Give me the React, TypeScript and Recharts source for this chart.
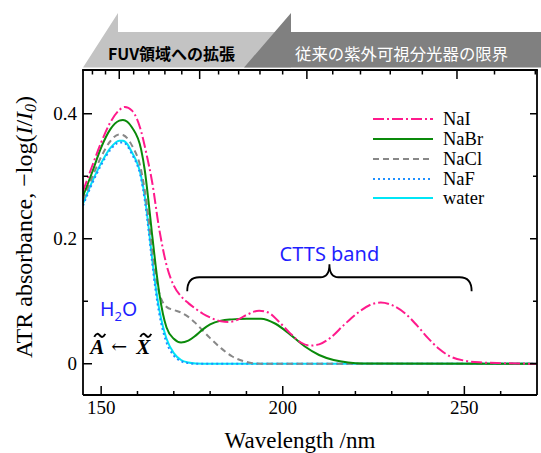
import React from 'react';
import { LineChart, Line, XAxis, YAxis, ReferenceLine } from 'recharts';

const SERIF = '"Liberation Serif", "Times New Roman", serif';
const SANS = '"Noto Sans", "Liberation Sans", sans-serif';
const CJK = '"Noto Sans CJK JP", "Noto Sans", sans-serif';

// ---- data ----
const waterX = [145, 147.5, 150, 152.5, 155, 156, 158.5, 161, 162, 163, 164, 165, 166, 167, 168, 170, 172, 174, 176, 180, 270];
const waterY = [0.256, 0.291, 0.321, 0.345, 0.357, 0.357, 0.338, 0.3, 0.268, 0.222, 0.17, 0.124, 0.087, 0.06, 0.04, 0.017, 0.006, 0.002, 0.0005, 0, 0];

const nafX = [145, 147.5, 150, 152.5, 155, 156, 158.5, 161, 162, 163, 164, 165, 166, 167, 168, 170, 172, 174, 176, 180, 270];
const nafY = [0.253, 0.288, 0.318, 0.342, 0.354, 0.354, 0.335, 0.296, 0.262, 0.216, 0.164, 0.117, 0.08, 0.053, 0.034, 0.013, 0.004, 0.001, 0, 0, 0];

const naclX = [145, 147.5, 150, 152.5, 155, 156, 158.5, 161, 162, 163, 164, 165, 166, 167, 168, 170, 172, 174, 176, 178, 180, 183, 186, 190, 194, 270];
const naclY = [0.262, 0.298, 0.331, 0.356, 0.367, 0.366, 0.349, 0.31, 0.278, 0.235, 0.185, 0.142, 0.113, 0.098, 0.091, 0.086, 0.082, 0.075, 0.065, 0.053, 0.041, 0.025, 0.012, 0.003, 0, 0];

const nabrX = [145, 147.5, 150, 152.5, 155, 156, 158.5, 161, 162, 163, 164, 165, 166, 167, 168, 170, 172, 174, 176, 178, 180, 183, 186, 190, 194, 198, 202, 206, 210, 214, 218, 222, 270];
const nabrY = [0.268, 0.306, 0.346, 0.375, 0.389, 0.39, 0.378, 0.343, 0.31, 0.262, 0.208, 0.157, 0.113, 0.08, 0.058, 0.04, 0.034, 0.037, 0.045, 0.055, 0.063, 0.069, 0.071, 0.072, 0.072, 0.064, 0.047, 0.028, 0.014, 0.006, 0.002, 0.0005, 0];

const naiX = [145, 147.5, 150, 152.5, 155, 156.5, 158.5, 161, 162.5, 164, 166, 168, 170, 172, 174, 176, 178, 180, 183, 185, 187, 190, 193.5, 196, 199, 202, 205, 207.5, 210, 213, 217, 221, 224, 227, 230, 234, 237, 240, 243, 246, 250, 255, 260, 270];
const naiY = [0.276, 0.316, 0.354, 0.386, 0.406, 0.411, 0.405, 0.372, 0.335, 0.292, 0.215, 0.158, 0.125, 0.108, 0.097, 0.088, 0.08, 0.074, 0.068, 0.067, 0.069, 0.078, 0.085, 0.082, 0.067, 0.049, 0.034, 0.029, 0.031, 0.041, 0.063, 0.083, 0.094, 0.098, 0.094, 0.079, 0.061, 0.041, 0.024, 0.012, 0.005, 0.002, 0.001, 0];

const seriesNames = ['NaI', 'NaBr', 'NaCl', 'NaF', 'water'];
const seriesColors = ['#ff1a8c', '#0a8a0a', '#888888', '#1e90ff', '#00e6f6'];
const seriesDash = ['11 3 2 3', '', '6 4', '2 3', ''];

// axes / ticks
const xDomain = [145, 270];
const yDomain = [-0.05, 0.47];
const xTicks = [150, 160, 170, 180, 190, 200, 210, 220, 230, 240, 250, 260];
const xLabeled = [150, 200, 250];
const yTicks = [0, 0.1, 0.2, 0.3, 0.4];
const yLabeled = [0, 0.2, 0.4];
const energyTicks = [8.4, 8.2, 8.0, 7.8, 7.6, 7.4, 7.2, 7.0, 6.8, 6.6, 6.4, 6.2, 6.0, 5.8, 5.6, 5.4, 5.2, 5.0, 4.8, 4.6];
const energyMajor = [8, 7, 6, 5];
const HC = 1239.84;
const energyLam = energyTicks.map((e) => HC / e);
const allXTicks = [...xTicks, ...energyLam];

// layout
const CW = 541;
const CH = 453;
const M = { top: 70, right: 4, bottom: 0, left: 0 };
const YAW = 83;
const XAH = 58;
const PLOT_W = CW - M.left - M.right - YAW;
const PLOT_H = CH - M.top - M.bottom - XAH;

const mk = (xs: number[], ys: number[]) => xs.map((x, i) => ({ x, y: ys[i] }));
const seriesData = [mk(naiX, naiY), mk(nabrX, nabrY), mk(naclX, naclY), mk(nafX, nafY), mk(waterX, waterY)];

const BottomTick = (p: any) => {
  const { x, y, payload } = p;
  const v = payload.value;
  const isBottom = xTicks.some((t) => Math.abs(t - v) < 1e-9);
  if (!isBottom) {
    // energy (top) axis tick, mirrored onto the top frame
    const e = HC / v;
    const major = energyMajor.some((m) => Math.abs(m - e) < 1e-6);
    const top = y - PLOT_H;
    return <line x1={x} x2={x} y1={top} y2={top + (major ? 9 : 4.5)} stroke="#000" strokeWidth={1.5} />;
  }
  const major = xLabeled.includes(v);
  return (
    <g>
      <line x1={x} x2={x} y1={y} y2={y - (major ? 9 : 4)} stroke="#000" strokeWidth={1.5} />
      {major && (
        <text x={x} y={y + 19} textAnchor="middle" fontFamily={SERIF} fontSize={19} fill="#000">
          {v}
        </text>
      )}
    </g>
  );
};

const LeftTick = (p: any) => {
  const { x, y, payload } = p;
  const v = payload.value;
  const major = yLabeled.some((m) => Math.abs(m - v) < 1e-9);
  const right = x + PLOT_W;
  return (
    <g>
      <line x1={x} x2={x + (major ? 9 : 5)} y1={y} y2={y} stroke="#000" strokeWidth={1.5} />
      <line x1={right} x2={right - (major ? 7 : 4)} y1={y} y2={y} stroke="#000" strokeWidth={1.5} />
      {major && (
        <text x={x - 6} y={y} dy="0.35em" textAnchor="end" fontFamily={SERIF} fontSize={19} fill="#000">
          {v === 0 ? '0' : v.toFixed(1)}
        </text>
      )}
    </g>
  );
};

const BraceShape = (p: any) => {
  const { x1, y1, x2 } = p;
  if (x1 == null) return null;
  const xm = (x1 + x2) / 2;
  const yt = y1 - 14;
  const yp = y1 - 27;
  const d = `M ${x1} ${y1} Q ${x1} ${yt} ${x1 + 12} ${yt} L ${xm - 9} ${yt} Q ${xm} ${yt} ${xm} ${yp} Q ${xm} ${yt} ${xm + 9} ${yt} L ${x2 - 12} ${yt} Q ${x2} ${yt} ${x2} ${y1}`;
  return (
    <g>
      <path d={d} fill="none" stroke="#000" strokeWidth={1.8} />
      <text x={xm} y={y1 - 30} textAnchor="middle" fontFamily={SANS} fontSize={20} fill="#1f1fff">
        CTTS band
      </text>
    </g>
  );
};

const H2OShape = (p: any) => {
  const { x1, y1 } = p;
  if (x1 == null) return null;
  return (
    <text x={x1} y={y1} fontFamily={SANS} fontSize={19.5} fill="#1f1fff">
      H<tspan fontSize={13} dy={5}>2</tspan>
      <tspan dy={-5}>O</tspan>
    </text>
  );
};

const tildePath = (cx: number, cy: number, w: number) =>
  `M ${cx - w / 2} ${cy + 1.5} C ${cx - w / 4} ${cy - 3.5}, ${cx - w / 8} ${cy - 1}, ${cx} ${cy} S ${cx + w / 4} ${cy + 3.5}, ${cx + w / 2} ${cy - 1.5}`;

const TransShape = (p: any) => {
  const { x1, y1 } = p;
  if (x1 == null) return null;
  return (
    <g>
      <text x={x1} y={y1} fontFamily={SERIF} fontSize={21} fontWeight="bold" fontStyle="italic" fill="#000">
        A
      </text>
      <path d={tildePath(x1 + 9.5, y1 - 19, 11)} fill="none" stroke="#000" strokeWidth={2} />
      <text x={x1 + 21} y={y1 - 1} fontFamily={'"DejaVu Serif", serif'} fontSize={19} fill="#000">
        {'\u2190'}
      </text>
      <text x={x1 + 46} y={y1} fontFamily={SERIF} fontSize={21} fontWeight="bold" fontStyle="italic" fill="#000">
        X
      </text>
      <path d={tildePath(x1 + 55.5, y1 - 19, 11)} fill="none" stroke="#000" strokeWidth={2} />
    </g>
  );
};

const legendRowsY = [119, 139, 159, 179, 198];

export default function App() {
  const plotL = M.left + YAW;
  const plotR = plotL + PLOT_W;
  const plotT = M.top;
  return (
    <div style={{ position: 'absolute', left: 0, top: 0, width: CW, height: CH, background: '#fff' }}>
      <LineChart width={CW} height={CH} margin={M}>
        <XAxis
          dataKey="x"
          type="number"
          domain={xDomain}
          ticks={allXTicks}
          interval={0}
          allowDataOverflow
          height={XAH}
          tickSize={0}
          tickMargin={0}
          tickLine={false}
          tick={<BottomTick />}
          axisLine={{ stroke: '#000', strokeWidth: 1.8 }}
        />
        <YAxis
          type="number"
          domain={yDomain}
          ticks={yTicks}
          interval={0}
          allowDataOverflow
          width={YAW}
          tickSize={0}
          tickMargin={0}
          tickLine={false}
          tick={<LeftTick />}
          axisLine={{ stroke: '#000', strokeWidth: 1.8 }}
        />
        {[4, 3, 2, 1, 0].map((i) => (
          <Line
            key={seriesNames[i]}
            data={seriesData[i]}
            dataKey="y"
            name={seriesNames[i]}
            type="monotone"
            stroke={seriesColors[i]}
            strokeWidth={2}
            strokeDasharray={seriesDash[i] || undefined}
            dot={false}
            activeDot={false}
            isAnimationActive={false}
          />
        ))}
        <ReferenceLine
          segment={[{ x: 173.7, y: 0.116 }, { x: 252, y: 0.116 }]}
          shape={(p: any) => <BraceShape {...p} />}
        />
        <ReferenceLine
          segment={[{ x: 149.7, y: 0.076 }, { x: 149.7, y: 0.076 }]}
          shape={(p: any) => <H2OShape {...p} />}
        />
        <ReferenceLine
          segment={[{ x: 147.0, y: 0.015 }, { x: 147.0, y: 0.015 }]}
          shape={(p: any) => <TransShape {...p} />}
        />
      </LineChart>
      <svg
        width={CW}
        height={CH}
        style={{ position: 'absolute', left: 0, top: 0, pointerEvents: 'none' }}
      >
        {/* top and right frame */}
        <line x1={plotL - 0.9} x2={plotR + 0.9} y1={plotT} y2={plotT} stroke="#000" strokeWidth={1.8} />
        <line x1={plotR} x2={plotR} y1={plotT} y2={plotT + PLOT_H} stroke="#000" strokeWidth={1.8} />
        <polygon points="83,67.5 118,13 118,32 291,32 291,67.5" fill="#c3c3c3" />
        <polygon points="244,67.5 291,13 291,32 541,32 541,67.5" fill="#808080" />
        <text x={108} y={60} fontFamily={CJK} fontSize={16} fontWeight="bold" fill="#000">
          FUV領域への拡張
        </text>
        <text x={295} y={60} fontFamily={CJK} fontSize={16.4} fill="#fff">
          従来の紫外可視分光器の限界
        </text>
        {seriesNames.map((n, i) => (
          <g key={n}>
            <line
              x1={373}
              x2={433}
              y1={legendRowsY[i]}
              y2={legendRowsY[i]}
              stroke={seriesColors[i]}
              strokeWidth={2}
              strokeDasharray={seriesDash[i] || undefined}
            />
            <text x={443} y={legendRowsY[i] + 6} fontFamily={SERIF} fontSize={18.5} fill="#000">
              {n}
            </text>
          </g>
        ))}
        <text x={300} y={448} textAnchor="middle" fontFamily={SERIF} fontSize={23} fill="#000">
          Wavelength /nm
        </text>
        <text transform="translate(32,227) rotate(-90)" textAnchor="middle" fontFamily={SERIF} fontSize={24} fill="#000">
          ATR absorbance, {'\u2212'}log(<tspan fontStyle="italic">I</tspan>/<tspan fontStyle="italic">I</tspan>
          <tspan fontStyle="italic" fontSize={16} dy={4}>0</tspan>
          <tspan dy={-4}>)</tspan>
        </text>
      </svg>
    </div>
  );
}
